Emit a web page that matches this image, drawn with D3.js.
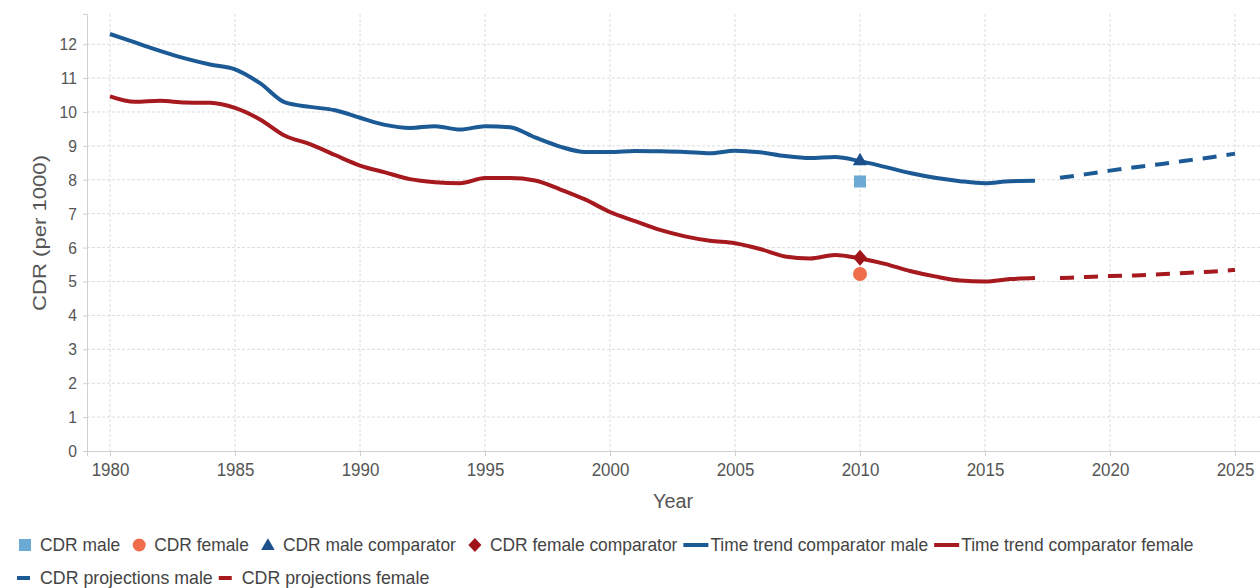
<!DOCTYPE html>
<html><head><meta charset="utf-8">
<script src="https://cdn.jsdelivr.net/npm/d3@7"></script>
<style>
html,body{margin:0;padding:0;background:#fff;}
svg{display:block;font-family:"Liberation Sans",Arial,sans-serif;}
</style></head>
<body>
<svg id="chart" width="1260" height="588"></svg>
<script>
const years = d3.range(1980, 2018);
const maleComparator = [12.3,12.05,11.8,11.58,11.4,11.26,10.85,10.28,10.15,10.05,9.83,9.62,9.53,9.58,9.48,9.58,9.55,9.25,8.98,8.82,8.82,8.85,8.84,8.82,8.78,8.86,8.81,8.70,8.64,8.67,8.55,8.38,8.20,8.06,7.96,7.90,7.96,7.97];
const femaleComparator = [10.46,10.3,10.33,10.28,10.27,10.12,9.78,9.3,9.05,8.73,8.42,8.22,8.02,7.93,7.9,8.05,8.05,7.98,7.72,7.42,7.05,6.78,6.52,6.33,6.2,6.13,5.96,5.74,5.68,5.78,5.68,5.52,5.31,5.15,5.03,5.0,5.07,5.1];
const projYears = [2018,2019,2020,2021,2022,2023,2024,2025];
const maleProjection = [8.06,8.16,8.27,8.37,8.46,8.56,8.66,8.77];
const femaleProjection = [5.1,5.13,5.16,5.18,5.21,5.25,5.29,5.34];
const pointYear = 2010;
const cdrMale = 7.95, cdrFemale = 5.22, cdrMaleComp = 8.55, cdrFemaleComp = 5.7;
const xTicks = [1980,1985,1990,1995,2000,2005,2010,2015,2020,2025];
const yTicks = [0,1,2,3,4,5,6,7,8,9,10,11,12];

const C = {blue:"#1c5a96", red:"#a5191f", lblue:"#6aaad5", orange:"#f06d4c", tri:"#1c4f8c", dia:"#9e1419", grid:"#dcdcdc", text:"#555"};

const svg = d3.select("#chart");
const L = 87, R = 1260, T = 14, B = 451;
const x = d3.scaleLinear().domain([1979.08, 2026]).range([L, R]);
const y = d3.scaleLinear().domain([0, 12.89]).range([B, T]);

// grid
const g = svg.append("g");
g.selectAll(".hg").data(yTicks.slice(1)).join("line")
 .attr("x1", L).attr("x2", R).attr("y1", d=>y(d)).attr("y2", d=>y(d))
 .attr("stroke", C.grid).attr("stroke-dasharray","3,2").attr("stroke-width",1);
g.selectAll(".vg").data(xTicks).join("line")
 .attr("x1", d=>x(d)).attr("x2", d=>x(d)).attr("y1", T).attr("y2", B)
 .attr("stroke", C.grid).attr("stroke-dasharray","3,2").attr("stroke-width",1);

function condense(sel, size, factor){
  sel.attr("fill",C.text).style("font-size",size+"px")
   .attr("font-family","'Liberation Sans',Arial,sans-serif")
   .each(function(){
     const w = this.getComputedTextLength();
     d3.select(this).attr("textLength", w*factor).attr("lengthAdjust","spacingAndGlyphs");
   });
}

// axes
const xa = svg.append("g").attr("transform",`translate(0,${B})`)
 .call(d3.axisBottom(x).tickValues(xTicks).tickFormat(d3.format("d")).tickSize(5).tickPadding(7));
const ya = svg.append("g").attr("transform",`translate(${L},0)`)
 .call(d3.axisLeft(y).tickValues(yTicks).tickSize(4).tickPadding(6));
[xa, ya].forEach(a=>{
  a.select(".domain").attr("stroke","#d0d0d0");
  a.selectAll(".tick line").attr("stroke","#d0d0d0");
});
condense(xa.selectAll(".tick text"), 18, 0.94);
condense(ya.selectAll(".tick text"), 17, 0.92);

svg.append("text").attr("x", 673).attr("y", 508).attr("text-anchor","middle")
 .attr("fill",C.text).style("font-size","20px").attr("textLength",40).attr("lengthAdjust","spacingAndGlyphs").text("Year");
svg.append("text").attr("transform","translate(46,233) rotate(-90)").attr("text-anchor","middle")
 .attr("fill",C.text).style("font-size","19px").attr("textLength",156).attr("lengthAdjust","spacingAndGlyphs").text("CDR (per 1000)");

// lines
const line = d3.line().x(d=>x(d[0])).y(d=>y(d[1])).curve(d3.curveMonotoneX);
svg.append("path").datum(years.map((yr,i)=>[yr,maleComparator[i]]))
 .attr("d",line).attr("fill","none").attr("stroke",C.blue).attr("stroke-width",4).attr("stroke-linejoin","round");
svg.append("path").datum(years.map((yr,i)=>[yr,femaleComparator[i]]))
 .attr("d",line).attr("fill","none").attr("stroke",C.red).attr("stroke-width",4).attr("stroke-linejoin","round");
svg.append("path").datum(projYears.map((yr,i)=>[yr,maleProjection[i]]))
 .attr("d",line).attr("fill","none").attr("stroke",C.blue).attr("stroke-width",4).attr("stroke-dasharray","14,10");
svg.append("path").datum(projYears.map((yr,i)=>[yr,femaleProjection[i]]))
 .attr("d",line).attr("fill","none").attr("stroke",C.red).attr("stroke-width",4).attr("stroke-dasharray","14,10");

// points
const px = x(pointYear);
svg.append("rect").attr("x",px-6).attr("y",y(cdrMale)-6).attr("width",12).attr("height",12).attr("fill",C.lblue);
svg.append("circle").attr("cx",px).attr("cy",y(cdrFemale)).attr("r",7).attr("fill",C.orange);
svg.append("path").attr("d",d3.symbol(d3.symbolTriangle,90)()).attr("transform",`translate(${px},${y(cdrMaleComp)})`).attr("fill",C.tri);
svg.append("path").attr("d","M0,-8L7,0L0,8L-7,0Z").attr("transform",`translate(${px},${y(cdrFemaleComp)})`).attr("fill",C.dia);

// legend
const legendItems = [
 {label:"CDR male", type:"square", color:C.lblue, row:0},
 {label:"CDR female", type:"circle", color:C.orange, row:0},
 {label:"CDR male comparator", type:"triangle", color:C.tri, row:0},
 {label:"CDR female comparator", type:"diamond", color:C.dia, row:0},
 {label:"Time trend comparator male", type:"line", color:C.blue, row:0},
 {label:"Time trend comparator female", type:"line", color:C.red, row:0},
 {label:"CDR projections male", type:"dash", color:C.blue, row:1},
 {label:"CDR projections female", type:"dash", color:C.red, row:1}
];
const lg = svg.append("g");
let cx = [18, 17];
const rowY = [545, 578];
legendItems.forEach((it,i)=>{
  const ry = rowY[it.row];
  let x0 = cx[it.row];
  let sw;
  const s = lg.append("g");
  if (it.type==="square"){ s.append("rect").attr("x",x0+1).attr("y",ry-6).attr("width",12).attr("height",12).attr("fill",it.color); sw=22; }
  else if (it.type==="circle"){ s.append("circle").attr("cx",x0+7).attr("cy",ry).attr("r",6.5).attr("fill",it.color); sw=22; }
  else if (it.type==="triangle"){ s.append("path").attr("d",d3.symbol(d3.symbolTriangle,80)()).attr("transform",`translate(${x0+7},${ry+1})`).attr("fill",it.color); sw=22; }
  else if (it.type==="diamond"){ s.append("path").attr("d","M0,-7L6.5,0L0,7L-6.5,0Z").attr("transform",`translate(${x0+7},${ry})`).attr("fill",it.color); sw=22; }
  else if (it.type==="line"){ s.append("line").attr("x1",x0).attr("x2",x0+25).attr("y1",ry).attr("y2",ry).attr("stroke",it.color).attr("stroke-width",4); sw=27; }
  else { s.append("line").attr("x1",x0).attr("x2",x0+13).attr("y1",ry).attr("y2",ry).attr("stroke",it.color).attr("stroke-width",4); sw=23; }
  const t = lg.append("text").attr("x",x0+sw).attr("y",ry+6).attr("fill","#444")
    .style("font-size","18.5px").text(it.label);
  const w0 = t.node().getComputedTextLength();
  const w = w0*(it.row===0 ? 0.94 : 0.96);
  t.attr("textLength", w).attr("lengthAdjust","spacingAndGlyphs");
  const next = legendItems[i+1];
  const gap = next && (next.type==="line" || next.type==="dash") ? 6 : 12;
  cx[it.row] = x0 + sw + w + gap;
});
</script>
</body></html>
